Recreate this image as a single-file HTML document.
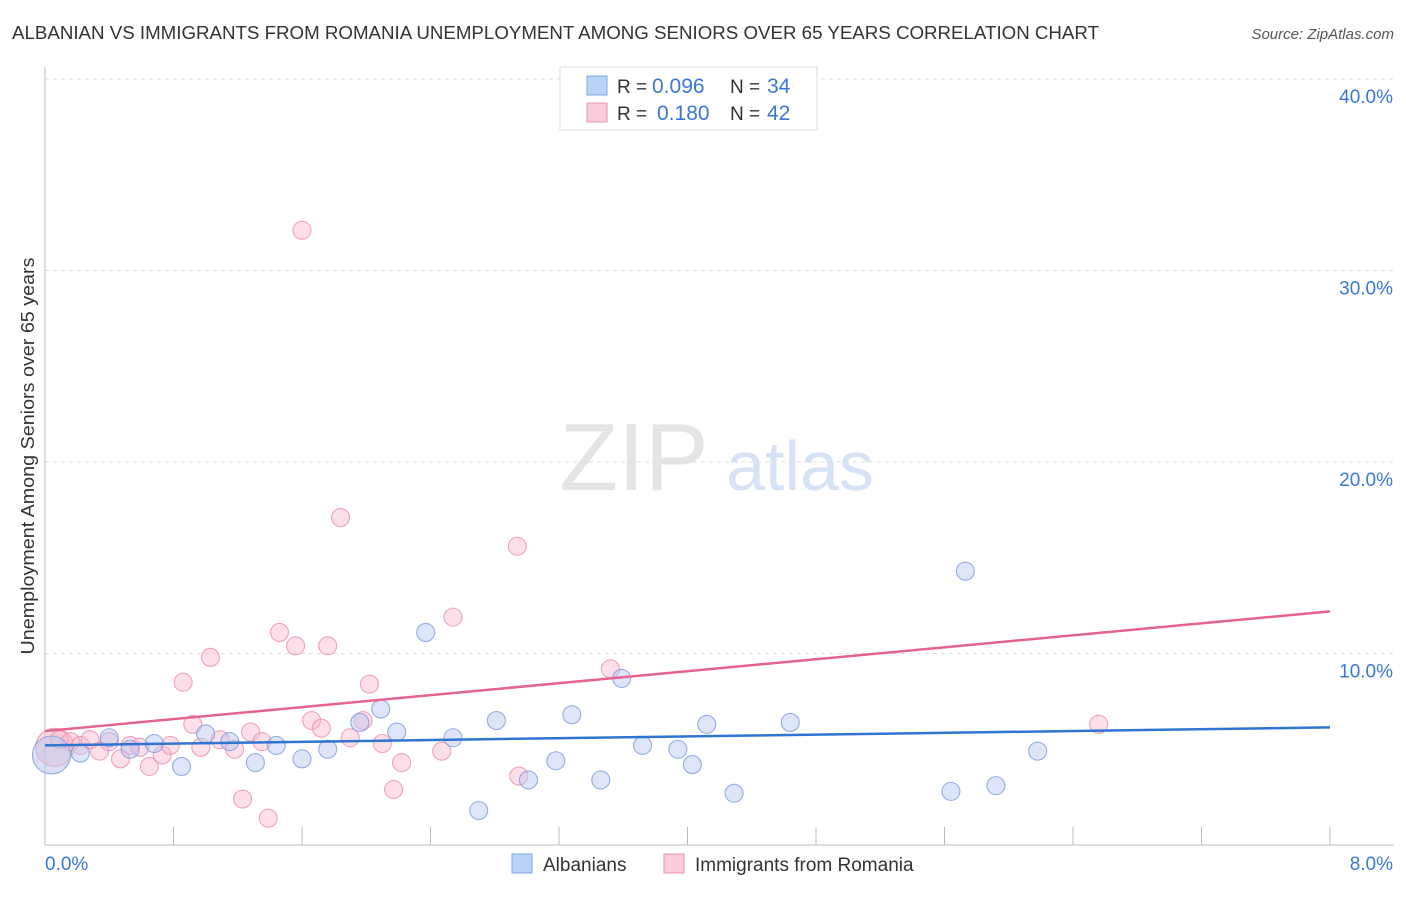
<!DOCTYPE html>
<html><head><meta charset="utf-8">
<style>
body{margin:0;background:#fff;font-family:"Liberation Sans",sans-serif;}
svg text{font-family:"Liberation Sans",sans-serif;}
</style></head>
<body>
<svg id="chart" width="1406" height="892" xmlns="http://www.w3.org/2000/svg">
<text x="12" y="39" font-size="18" fill="#333" textLength="1087" lengthAdjust="spacingAndGlyphs">ALBANIAN VS IMMIGRANTS FROM ROMANIA UNEMPLOYMENT AMONG SENIORS OVER 65 YEARS CORRELATION CHART</text>
<text x="1394" y="39" font-size="15" fill="#555" text-anchor="end" font-style="italic">Source: ZipAtlas.com</text>
<text x="634" y="490" font-size="96" fill="#e4e4e4" font-family="Liberation Serif" text-anchor="middle">ZIP</text>
<text x="800" y="490" font-size="70" fill="#d6e2f5" text-anchor="middle">atlas</text>
<g id="grid"></g>
<g id="axes"></g>
<g id="points"></g>
<g id="trends"></g>
<text transform="translate(34,456) rotate(-90)" font-size="18" fill="#333" text-anchor="middle" textLength="397" lengthAdjust="spacingAndGlyphs">Unemployment Among Seniors over 65 years</text>
<g>
<rect x="560" y="67" width="257" height="63" fill="#fff" stroke="#ddd"/>
<rect x="587" y="76" width="20" height="19" fill="#b9d3f7" stroke="#7aa7e6"/>
<text x="617" y="93" font-size="19" fill="#333">R =</text>
<text x="652" y="93" font-size="21" fill="#3a76d6">0.096</text>
<text x="730" y="93" font-size="19" fill="#333">N =</text>
<text x="767" y="93" font-size="21" fill="#3a76d6">34</text>
<rect x="587" y="103" width="20" height="19" fill="#fbcbd9" stroke="#eb94b0"/>
<text x="617" y="120" font-size="19" fill="#333">R =</text>
<text x="657" y="120" font-size="21" fill="#3a76d6">0.180</text>
<text x="730" y="120" font-size="19" fill="#333">N =</text>
<text x="767" y="120" font-size="21" fill="#3a76d6">42</text>
</g>
<g>
<rect x="512" y="854" width="20" height="19" fill="#b9d3f7" stroke="#7aa7e6"/>
<text x="543" y="871" font-size="19" fill="#333">Albanians</text>
<rect x="664" y="854" width="20" height="19" fill="#fbcbd9" stroke="#eb94b0"/>
<text x="695" y="871" font-size="19" fill="#333">Immigrants from Romania</text>
</g>
</svg>
<script>
const blueX=[0.04,0.22,0.40,0.53,0.68,0.85,1.00,1.15,1.31,1.44,1.60,1.76,1.96,2.09,2.19,2.37,2.54,2.70,2.81,3.01,3.18,3.28,3.46,3.59,3.72,3.94,4.03,4.12,4.29,4.64,5.64,5.73,5.92,6.18];
const blueY=[4.7,4.8,5.6,5.0,5.3,4.1,5.8,5.4,4.3,5.2,4.5,5.0,6.4,7.1,5.9,11.1,5.6,1.8,6.5,3.4,4.4,6.8,3.4,8.7,5.2,5.0,4.2,6.3,2.7,6.4,2.8,14.3,3.1,4.9];
const pinkX=[0.06,0.09,0.16,0.22,0.28,0.34,0.40,0.47,0.53,0.59,0.65,0.73,0.78,0.86,0.92,0.97,1.03,1.09,1.18,1.23,1.28,1.35,1.39,1.46,1.56,1.60,1.66,1.72,1.76,1.84,1.90,1.98,2.02,2.10,2.17,2.22,2.47,2.54,2.94,2.95,3.52,6.56];
const pinkY=[5.1,5.5,5.4,5.2,5.5,4.9,5.4,4.5,5.2,5.1,4.1,4.7,5.2,8.5,6.3,5.1,9.8,5.5,5.0,2.4,5.9,5.4,1.4,11.1,10.4,32.1,6.5,6.1,10.4,17.1,5.6,6.5,8.4,5.3,2.9,4.3,4.9,11.9,15.6,3.6,9.2,6.3];
const blueTrend=[5.2,6.14];
const pinkTrend=[5.95,12.2];
const yTicks=[10,20,30,40];
const xTickLabels=["0.0%","8.0%"];
const NS="http://www.w3.org/2000/svg";
const X0=45,X1=1330,Y0=845,PXY=19.15;
const sx=v=>X0+(v/8)*(X1-X0);
const sy=v=>Y0-v*PXY;
function mk(tag,attrs,parent){const e=document.createElementNS(NS,tag);for(const k in attrs)e.setAttribute(k,attrs[k]);parent.appendChild(e);return e;}
const grid=document.getElementById('grid'),axes=document.getElementById('axes'),pts=document.getElementById('points'),tr=document.getElementById('trends');
yTicks.forEach(t=>{
 const l=mk('line',{x1:X0,x2:1394,y1:sy(t),y2:sy(t),stroke:'#ddd','stroke-dasharray':'4,4'},grid);
 
 
 const tx=mk('text',{x:1393,y:sy(t)+24,'font-size':19,fill:'#3a76d6','text-anchor':'end'},grid);
 tx.textContent=t.toFixed(1)+'%';
 
 
});
const ya=mk('line',{x1:X0,x2:X0,y1:67,y2:Y0,stroke:'#bbb'},axes);


const xa=mk('line',{x1:X0,x2:1394,y1:Y0,y2:Y0,stroke:'#bbb'},axes);


for(let i=1;i<=10;i++){
 const t=mk('line',{x1:sx(i*0.8),x2:sx(i*0.8),y1:827,y2:Y0,stroke:'#bbb'},axes);
 
 
}
const xl0=mk('text',{x:45,y:870,'font-size':19,fill:'#3a76d6'},axes);xl0.textContent=xTickLabels[0];


const xl1=mk('text',{x:1393,y:870,'font-size':19,fill:'#3a76d6','text-anchor':'end'},axes);xl1.textContent=xTickLabels[1];


function dots(xs,ys,fill,stroke,name){
 xs.forEach((x,i)=>{
  const r=i===0?19:9;
  const c=mk('circle',{cx:sx(x),cy:sy(ys[i]),r:r,fill:fill,'fill-opacity':i===0?0.55:0.45,stroke:stroke,'stroke-width':1.1,'stroke-opacity':0.8},pts);
  
  
 });
}
dots(pinkX,pinkY,'#f9b9cc','#eb8fae','point-romania');
dots(blueX,blueY,'#b9c6ef','#7a9be0','point-albanians');
const bl=mk('line',{x1:sx(0),y1:sy(blueTrend[0]),x2:sx(8),y2:sy(blueTrend[1]),stroke:'#2f74d0','stroke-width':2.5},tr);


const pl=mk('line',{x1:sx(0),y1:sy(pinkTrend[0]),x2:sx(8),y2:sy(pinkTrend[1]),stroke:'#e4638f','stroke-width':2.5},tr);


</script>
</body></html>
